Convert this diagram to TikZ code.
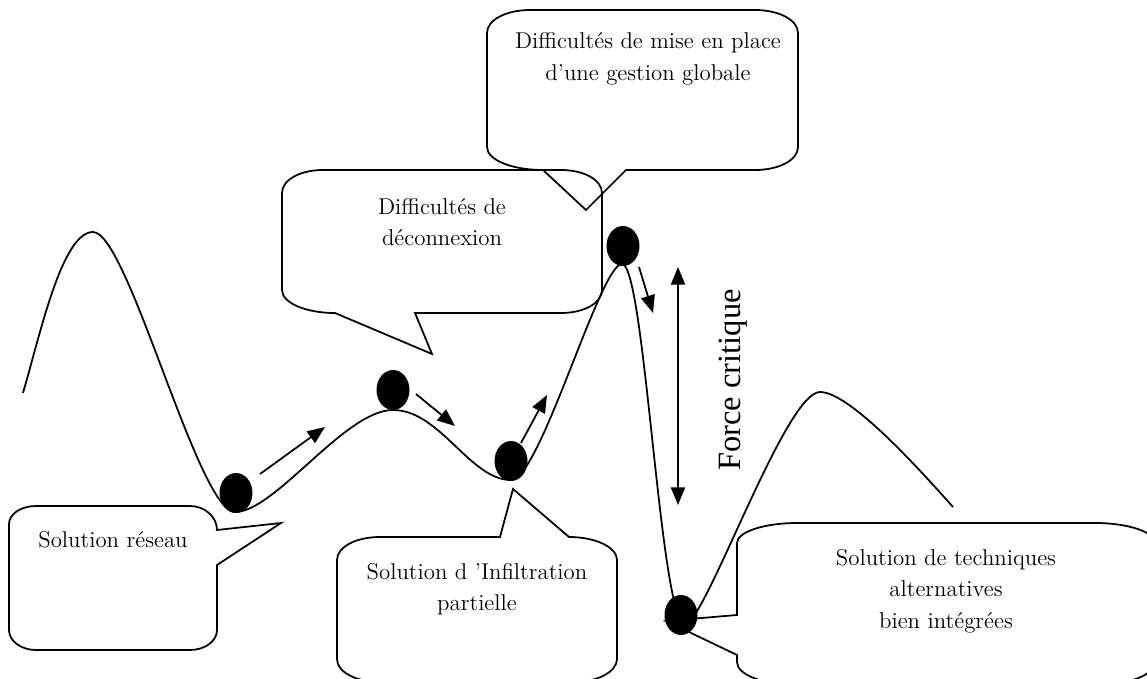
\documentclass[tikz,border=0pt]{standalone}
\usepackage{fontspec}
\newfontfamily\timesfont{Liberation Serif}
\usetikzlibrary{arrows.meta, shapes.geometric}

\tikzset{
  hill/.style={line width=1pt},
  bubble/.style={line width=1pt, line join=miter},
  ball/.style={ellipse, fill=black, inner sep=0pt,
    minimum width=0.66cm, minimum height=0.8cm},
  talk/.style={font=\fontsize{13}{18}\selectfont, align=center, inner sep=1pt},
  nudge/.style={line width=1pt, -{Triangle[length=10pt, width=8pt]}},
  forcearrow/.style={line width=1pt, {Triangle[length=10pt, width=8pt]}-{Triangle[length=10pt, width=8pt]}}
}

\begin{document}
\begin{tikzpicture}[x=0.02cm, y=-0.02cm]
    \useasboundingbox (0,0) rectangle (1147,679);
    \clip (0,0) rectangle (1147,679);

    % the landscape
    \draw[hill] (23,393) .. controls (40,335) and (62,232) .. (93,232)
      .. controls (128,232) and (198,512) .. (235,512)
      .. controls (275,512) and (345,410) .. (393,410)
      .. controls (440,410) and (470,480) .. (511,480)
      .. controls (540,480) and (600,264) .. (622,264)
      .. controls (645,264) and (660,624) .. (685,624)
      .. controls (705,624) and (785,392) .. (820,392)
      .. controls (850,392) and (920,470) .. (953,507);

    % callouts
    \draw[bubble] (36,506) -- (190,506) .. controls (205,506) and (217,517) .. (217,530)
      -- (281,523) -- (217,565) -- (217,630) .. controls (217,641) and (205,650) .. (190,650)
      -- (36,650) .. controls (21,650) and (9,641) .. (9,630)
      -- (9,524) .. controls (9,514) and (21,506) .. (36,506) -- cycle;
    \draw[bubble] (323,170) -- (561,170) .. controls (584,170) and (602,180) .. (602,193)
      -- (602,290) .. controls (602,303) and (584,313) .. (561,313)
      -- (415,313) -- (432,354) -- (335,313) .. controls (306,313) and (282,303) .. (282,290)
      -- (282,193) .. controls (282,180) and (300,170) .. (323,170) -- cycle;
    \draw[bubble] (530,10) -- (755,10) .. controls (779,10) and (798,20) .. (798,33)
      -- (798,147) .. controls (798,160) and (779,170) .. (755,170)
      -- (626,170) -- (586,210) -- (543,170) .. controls (512,170) and (487,160) .. (487,147)
      -- (487,33) .. controls (487,20) and (506,10) .. (530,10) -- cycle;
    \draw[bubble] (380,537) -- (500,537) -- (513,489) -- (569,537)
      .. controls (595,537) and (617,547) .. (617,560)
      -- (617,659) .. controls (617,672) and (597,682) .. (574,682)
      -- (380,682) .. controls (356,682) and (337,672) .. (337,659)
      -- (337,560) .. controls (337,547) and (356,537) .. (380,537) -- cycle;
    \draw[bubble] (797,523) -- (1095,523) .. controls (1128,523) and (1155,532) .. (1155,543)
      -- (1155,662) .. controls (1155,675) and (1128,685) .. (1095,685)
      -- (797,685) .. controls (764,685) and (737,675) .. (737,662)
      -- (737,655) -- (666,621) -- (737,615)
      -- (737,543) .. controls (737,532) and (764,523) .. (797,523) -- cycle;

    \node[talk] (reseau) at (113,540) {Solution réseau};
    \node[talk] (deconnexion) at (442,222) {Difficultés de\\déconnexion};
    \node[talk] (gestion) at (648,59) {Difficultés de mise en place\\d’une gestion globale};
    \node[talk] (infiltration) at (477,589) {Solution d ’Infiltration\\partielle};
    \node[talk] (alternatives) at (946,591) {Solution de techniques\\alternatives\\bien intégrées};

    % the balls
    \node[ball] (b1) at (236,493) {};
    \node[ball] (b2) at (393,390) {};
    \node[ball] (b3) at (511,461) {};
    \node[ball] (b4) at (623,246) {};
    \node[ball] (b5) at (681,615) {};

    % moves
    \draw[nudge] (260,474) -- (325,427);
    \draw[nudge] (416,394) -- (455,426);
    \draw[nudge] (521,443) -- (547,395);
    \draw[nudge] (639,267) -- (653,313);

    \draw[forcearrow] (678,267) -- (678,505);
    \node[rotate=90, font=\timesfont\fontsize{18.5}{22}\selectfont] (force) at (733,380) {Force critique};
\end{tikzpicture}
\end{document}
